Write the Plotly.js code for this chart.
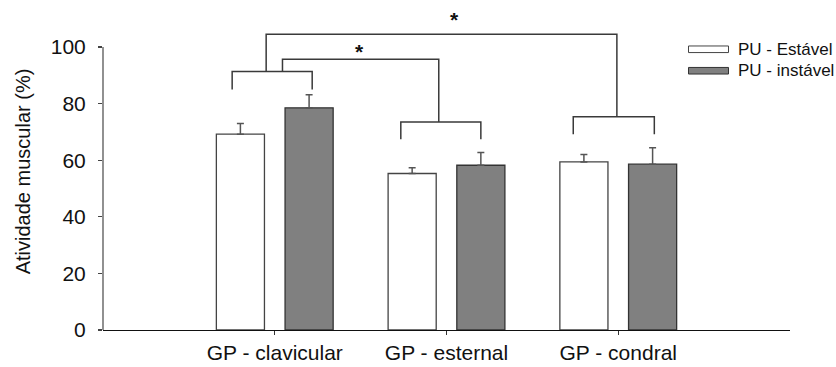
<!DOCTYPE html>
<html>
<head>
<meta charset="utf-8">
<script src="https://cdn.plot.ly/plotly-3.0.1.min.js"></script>
<style>html,body{margin:0;padding:0;background:#fff;}#chart{width:836px;height:367px;}</style>
</head>
<body>
<div id="chart"></div>
<script>
// ---- data ----
const categories = ['GP - clavicular', 'GP - esternal', 'GP - condral'];
const seriesNames = ['PU - Estável', 'PU - instável'];
const estavel = [69.2, 55.3, 59.4];
const estavelErr = [3.8, 2.0, 2.6];
const instavel = [78.5, 58.2, 58.6];
const instavelErr = [4.6, 4.5, 5.8];
const yTicks = [0, 20, 40, 60, 80, 100];
const yTitle = 'Atividade muscular (%)';
// significance brackets (category index, offsets in category units, y levels)
const pairBrackets = [
  {cat: 0, left: -0.248, right: 0.218, top: 91.3, bottom: 85.0},
  {cat: 1, left: -0.266, right: 0.200, top: 73.5, bottom: 67.4},
  {cat: 2, left: -0.262, right: 0.210, top: 75.3, bottom: 69.2}
];
const comparisons = [
  {from: 0, fromDx: -0.05, to: 2, toDx: -0.008, top: 104.5, label: '*', labelX: 1.044, labelY: 109.8},
  {from: 0, fromDx: 0.045, to: 1, toDx: -0.045, top: 95.7, label: '*', labelX: 0.495, labelY: 98.4}
];

// ---- layout geometry ----
const W = 836, H = 367;
const M = {l: 103, r: 46, t: 12.7, b: 37};
const PW = W - M.l - M.r, PH = H - M.t - M.b;
const px2x = X => (X - M.l) / PW;
const px2y = Y => (H - M.b - Y) / PH;

const FONT = 'Liberation Sans, Arial, sans-serif';
const lineStyle = {color: '#3a3a3a', width: 1.5};

const shapes = [];
const annotations = [];

// y axis line from 0 to 100 only
shapes.push({type: 'line', xref: 'paper', yref: 'y', x0: 0, x1: 0, y0: 0, y1: yTicks[yTicks.length - 1],
  line: {color: '#555', width: 1.3}});

pairBrackets.forEach(b => {
  const x0 = b.cat + b.left, x1 = b.cat + b.right;
  shapes.push({type: 'path', xref: 'x', yref: 'y',
    path: `M${x0},${b.bottom} L${x0},${b.top} L${x1},${b.top} L${x1},${b.bottom}`,
    line: lineStyle});
});
comparisons.forEach(c => {
  const a = pairBrackets.find(b => b.cat === c.from);
  const z = pairBrackets.find(b => b.cat === c.to);
  const x0 = c.from + c.fromDx, x1 = c.to + c.toDx;
  shapes.push({type: 'path', xref: 'x', yref: 'y',
    path: `M${x0},${a.top} L${x0},${c.top} L${x1},${c.top} L${x1},${z.top}`,
    line: lineStyle});
  annotations.push({xref: 'x', yref: 'y', x: c.labelX, y: c.labelY, text: '<b>' + c.label + '</b>',
    showarrow: false, xanchor: 'center', yanchor: 'middle',
    font: {family: FONT, size: 21, color: '#111'}});
});

// custom legend
const legendItems = [
  {name: seriesNames[0], fill: '#ffffff', stroke: '#444', y: 49},
  {name: seriesNames[1], fill: '#808080', stroke: '#333', y: 70.5}
];
legendItems.forEach(it => {
  shapes.push({type: 'rect', xref: 'paper', yref: 'paper',
    x0: px2x(688.5), x1: px2x(728.5), y0: px2y(it.y - 3.3), y1: px2y(it.y + 3.3),
    fillcolor: it.fill, line: {color: it.stroke, width: 1}});
  annotations.push({xref: 'paper', yref: 'paper', x: px2x(735.5), y: px2y(it.y),
    text: it.name, showarrow: false, xanchor: 'left', yanchor: 'middle',
    font: {family: FONT, size: 17, color: '#111'}});
});

const traces = [
  {type: 'bar', name: seriesNames[0], x: categories.map((c, i) => i), y: estavel,
    marker: {color: '#ffffff', line: {color: '#444', width: 1.3}},
    error_y: {type: 'data', symmetric: false, array: estavelErr, arrayminus: estavelErr.map(() => 0),
      color: '#555', thickness: 1.5, width: 3.5}},
  {type: 'bar', name: seriesNames[1], x: categories.map((c, i) => i), y: instavel,
    marker: {color: '#808080', line: {color: '#333', width: 1.3}},
    error_y: {type: 'data', symmetric: false, array: instavelErr, arrayminus: instavelErr.map(() => 0),
      color: '#555', thickness: 1.5, width: 3.5}}
];

const layout = {
  width: W, height: H,
  margin: M,
  paper_bgcolor: '#fff', plot_bgcolor: '#fff',
  showlegend: false,
  barmode: 'group', bargap: 0.2, bargroupgap: 0.3,
  font: {family: FONT, size: 21, color: '#111'},
  xaxis: {
    range: [-1, 3], tickvals: categories.map((c, i) => i), ticktext: categories,
    showline: true, linecolor: '#111', linewidth: 1.2, showgrid: false, zeroline: false,
    ticks: 'outside', ticklen: 4, tickcolor: '#333', tickwidth: 1.2,
    tickfont: {family: FONT, size: 21, color: '#111'}
  },
  yaxis: {
    range: [0, 112], tickvals: yTicks,
    showline: false, showgrid: false, zeroline: false,
    ticks: 'outside', ticklen: 4, tickcolor: '#444', tickwidth: 1.2,
    tickfont: {family: FONT, size: 21, color: '#111'},
    ticklabelstandoff: 8,
    title: {text: yTitle, font: {family: FONT, size: 20, color: '#111'}, standoff: 14}
  },
  shapes: shapes,
  annotations: annotations
};

Plotly.newPlot('chart', traces, layout, {displayModeBar: false, staticPlot: true});
</script>
</body>
</html>
